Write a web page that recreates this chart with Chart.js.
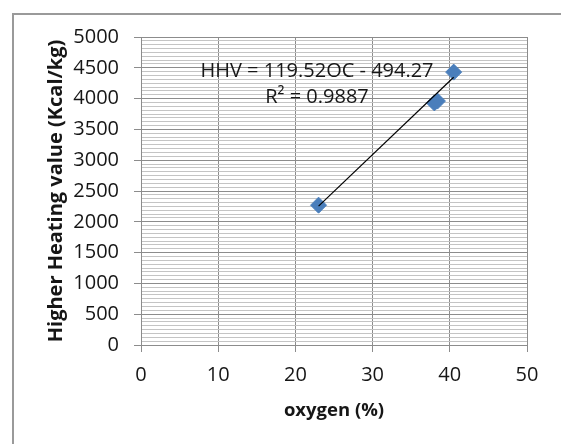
<!DOCTYPE html>
<html><head><meta charset="utf-8">
<script src="https://cdn.jsdelivr.net/npm/chart.js@4/dist/chart.umd.min.js"></script>
<style>
html,body{margin:0;padding:0;background:#fff;overflow:hidden}
#frame{position:absolute;left:12px;top:13px;width:600px;height:500px;border-left:2px solid #9a9a9a;border-top:2px solid #9a9a9a;box-sizing:border-box}
#wrap{position:absolute;left:0;top:0;width:561px;height:444px}
</style></head><body>
<div id="frame"></div>
<div id="wrap"><canvas id="c" width="561" height="444"></canvas></div>
<script>
// ---- data ----
const oxygen = [23.0, 38.0, 38.4, 40.5];
const hhv = [2270, 3930, 3960, 4430];
const trendOxygen = [23.0, 40.5];
const trendHHV = [2255, 4346];
const xTickValues = [0, 10, 20, 30, 40, 50];
const yTickValues = [0, 500, 1000, 1500, 2000, 2500, 3000, 3500, 4000, 4500, 5000];
const xTitle = 'oxygen (%)';
const yTitle = 'Higher Heating value (Kcal/kg)';
const equationLines = ['HHV = 119.52OC - 494.27', 'R² = 0.9887'];

const FONT = "'Open Sans', 'Liberation Sans', sans-serif";
const MAJOR = '#8c8c8c';
const MINOR = '#c4c4c4';
const TEXT = '#161616';

const equationPlugin = {
  id: 'equation',
  afterDatasetsDraw(chart) {
    const {ctx, scales} = chart;
    ctx.save();
    ctx.font = '20px ' + FONT;
    ctx.fillStyle = TEXT;
    ctx.textAlign = 'center';
    ctx.textBaseline = 'middle';
    const xc = scales.x.getPixelForValue(22.8);
    ctx.fillText(equationLines[0], xc, scales.y.getPixelForValue(4448));
    ctx.fillText(equationLines[1], xc, scales.y.getPixelForValue(4016));
    ctx.restore();
  }
};

new Chart(document.getElementById('c'), {
  type: 'scatter',
  data: {
    datasets: [
      {
        label: 'trend',
        data: trendOxygen.map((x, i) => ({x, y: trendHHV[i]})),
        showLine: true,
        borderColor: '#000',
        borderWidth: 1.2,
        pointRadius: 0,
        order: 0
      },
      {
        label: 'HHV',
        data: oxygen.map((x, i) => ({x, y: hhv[i]})),
        pointStyle: 'rectRot',
        pointRadius: 8,
        backgroundColor: '#4a7ebb',
        borderColor: '#4a7ebb',
        borderWidth: 1,
        order: 1
      }
    ]
  },
  options: {
    responsive: false,
    animation: false,
    events: [],
    layout: {padding: {left: 0, top: 37, right: 34, bottom: 0}},
    plugins: {legend: {display: false}, tooltip: {enabled: false}},
    scales: {
      x: {
        type: 'linear', min: 0, max: 50,
        afterBuildTicks: s => { s.ticks = xTickValues.map(v => ({value: v})); },
        afterFit: s => { s.height = 99; },
        grid: {color: MAJOR, tickColor: MAJOR, tickLength: 7, lineWidth: 1},
        border: {color: MAJOR},
        ticks: {font: {family: FONT, size: 20}, color: TEXT, padding: 11, maxRotation: 0, callback: v => String(v)},
        title: {display: true, text: xTitle, font: {family: FONT, size: 18.5, weight: 'bold'}, color: TEXT, padding: {top: 0, bottom: 22}}
      },
      y: {
        type: 'linear', min: 0, max: 5000, position: 'left',
        afterBuildTicks: s => { s.ticks = yTickValues.map(v => ({value: v})); },
        afterFit: s => { s.width = 141; },
        grid: {color: MAJOR, tickColor: MAJOR, tickLength: 7, lineWidth: 1},
        border: {color: MAJOR},
        ticks: {font: {family: FONT, size: 20}, color: TEXT, padding: 15, callback: v => String(v)},
        title: {display: true, text: yTitle, font: {family: FONT, size: 20, weight: 'bold'}, color: TEXT, padding: {top: 44, bottom: 0}}
      },
      yMinor: {
        type: 'linear', min: 0, max: 5000, position: 'left', z: -1,
        afterFit: s => { s.width = 0; },
        afterBuildTicks: s => {
          const t = [];
          for (let i = 0; i < yTickValues.length - 1; i++) {
            const a = yTickValues[i], b = yTickValues[i + 1];
            for (let k = 1; k < 8; k++) t.push({value: a + (b - a) * k / 8});
          }
          s.ticks = t;
        },
        ticks: {display: false},
        grid: {color: MINOR, drawTicks: false, lineWidth: 1},
        border: {display: false}
      }
    }
  },
  plugins: [equationPlugin]
});
</script>
</body></html>
